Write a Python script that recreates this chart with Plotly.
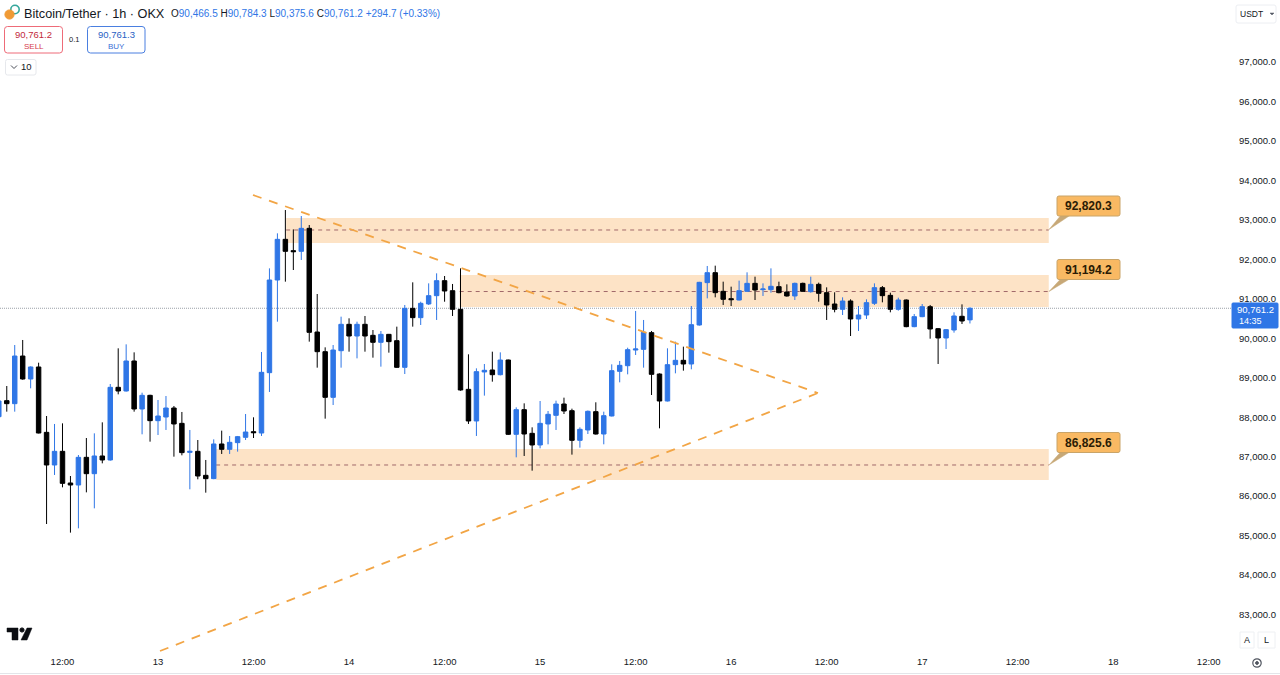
import plotly.graph_objects as go

# Hours relative to the 13th at 00:00
hours = list(range(-20, 103))
opens = [88014,88420,88344,89551,88969,89273,87617,86790,87136,86334,86283,86984,86570,87018,86917,88758,88665,89425,88209,88555,
 87913,88006,88234,87845,87110,87136,86528,86444,87322,87187,87356,87491,87634,87600,89129,91477,92507,92220,92203,92786,90159,89661,
 88504,89686,90354,90058,90354,90075,89898,90100,89940,89264,90759,90523,90870,91080,91460,91206,90734,88707,87905,89147,89197,89078,
 89450,87567,88192,87592,87297,87829,88048,88335,88166,87415,87677,88141,87575,88032,89163,89306,89703,89720,90143,89095,88411,89332,
 89442,89349,90337,91410,91663,91190,91004,90970,91190,91392,91232,91232,91308,91173,91072,91392,91181,91367,91156,90869,90734,90945,
 90489,90590,90886,91283,91088,90734,90970,90295,90548,90801,90244,90008,90210,90557,90466.5]
highs = [88430,88791,89830,89957,89290,89382,88031,87829,87845,86511,87043,87474,87592,87871,88842,89746,89847,89644,88622,88570,
 88437,88538,88285,88133,87677,87423,86917,87440,87660,87525,87525,88082,87998,89653,91772,92659,93250,92760,93098,92870,91122,89771,
 89830,90548,90506,90421,90565,90210,90185,90110,90295,90844,91418,90927,91392,91646,91578,91376,91772,89594,89239,89349,89661,89644,
 89460,88251,88352,87744,88411,88158,88420,88496,88217,87744,88170,88378,88141,89340,89425,89762,90692,90464,90185,89110,89746,89915,
 89788,90818,91430,91832,91840,91435,91308,91460,91671,91561,91392,91772,91435,91367,91410,91410,91561,91410,91291,91165,91038,90987,
 90818,90987,91392,91325,91156,91029,90985,90616,90869,90844,90260,90235,90658,90860,90784.3]
lows = [88000,88141,88141,88950,88732,87590,85295,86537,86224,85076,85185,86097,85692,86832,86900,88580,88650,88141,87567,87381,
 87550,87677,87001,87035,86174,86427,86089,86430,87069,87069,87128,87423,87474,87525,88640,90421,91435,91730,91984,89915,89256,87964,
 88310,89256,89661,89492,89661,89509,89281,89636,89250,89095,90295,90337,90844,90464,90927,90565,88672,87829,87525,88547,88901,89060,
 87550,86984,87018,86646,87212,87314,87677,88082,87052,87229,87575,87560,87314,88020,88884,89087,89577,89256,88563,87719,88400,89112,
 89180,89214,90320,91012,91038,90844,90818,90960,91180,90970,91072,91156,91140,91055,90970,91180,91156,90927,90464,90658,90590,90058,
 90185,90489,90844,90911,90658,90700,90280,90280,90535,89990,89349,89729,90143,90362,90375.6]
closes = [88411,88344,89551,88969,89273,87600,86790,87136,86325,86283,86984,86570,87018,86917,88758,88665,89425,88209,88555,87913,
 88031,88234,87829,87103,87136,86511,86444,87322,87187,87364,87508,87626,87609,89138,91477,92507,92203,92195,92786,90151,89661,88504,
 89703,90354,90058,90354,90058,89898,90100,89915,89264,90759,90523,90886,91080,91460,91198,90734,88690,87905,89155,89189,89078,89450,
 87567,88192,87575,87297,87845,88074,88335,88158,87415,87694,88150,87575,88040,89180,89315,89712,89729,90151,89087,88411,89332,89442,
 89349,90345,91418,91663,91156,90987,90979,91207,91392,91224,91249,91317,91156,91072,91392,91190,91367,91139,90844,90734,90945,90489,
 90590,90903,91283,91080,90734,90970,90295,90548,90801,90236,90008,90219,90565,90438,90761.2]

price_ticks = [83000,84000,85000,86000,87000,88000,89000,90000,91000,92000,93000,94000,95000,96000,97000]
price_labels = [f"{p:,.1f}" for p in price_ticks]
time_ticks = [-12,0,12,24,36,48,60,72,84,96,108,120,132]
time_labels = ["12:00","13","12:00","14","12:00","15","12:00","16","12:00","17","12:00","18","12:00"]

zone_starts = [16.1, 37.9, 7.3]
zone_end = 111.9
zone_tops = [93047, 91603, 87195]
zone_bottoms = [92414, 90793, 86409]
zone_lines = [92744, 91185, 86790]
zone_labels = ["92,820.3", "91,194.2", "86,825.6"]

upper_hours = [11.93, 82.91]
upper_prices = [93630, 88614]
lower_hours = [0.25, 82.91]
lower_prices = [82077, 88614]
last_price = 90761.2

BLUE = "#2f76e6"
W, H = 1232, 652
FONT = "Liberation Sans"

def px(x): return x / W
def py(y): return 1 - y / H

shapes, ann = [], []

def rect(x0, y0, x1, y1, line="#dfe1e6", fill="rgba(0,0,0,0)", width=1):
    shapes.append(dict(type="rect", xref="paper", yref="paper", x0=px(x0), x1=px(x1), y0=py(y0), y1=py(y1),
                       line=dict(color=line, width=width), fillcolor=fill))

def rrect(x0, y0, x1, y1, r, line, fill="#ffffff", width=1):
    X0, X1, Y0, Y1 = px(x0), px(x1), py(y0), py(y1)
    rx, ry = r / W, r / H
    path = (f"M {X0+rx},{Y0} L {X1-rx},{Y0} Q {X1},{Y0} {X1},{Y0-ry} L {X1},{Y1+ry} Q {X1},{Y1} {X1-rx},{Y1} "
            f"L {X0+rx},{Y1} Q {X0},{Y1} {X0},{Y1+ry} L {X0},{Y0-ry} Q {X0},{Y0} {X0+rx},{Y0} Z")
    shapes.append(dict(type="path", xref="paper", yref="paper", path=path, line=dict(color=line, width=width), fillcolor=fill))

def circle(cx, cy, r, fill, line=None, width=1):
    shapes.append(dict(type="circle", xref="paper", yref="paper", x0=px(cx-r), x1=px(cx+r), y0=py(cy+r), y1=py(cy-r),
                       fillcolor=fill, line=dict(color=line or fill, width=width)))

def poly(points, fill, line=None):
    d = "M " + " L ".join(f"{px(a)},{py(b)}" for a, b in points) + " Z"
    shapes.append(dict(type="path", xref="paper", yref="paper", path=d, fillcolor=fill, line=dict(color=line or fill, width=0.5)))

def text(x, y, s, size=9.5, color="#131722", anchor="left", bold=False):
    ann.append(dict(xref="paper", yref="paper", x=px(x), y=py(y), text=f"<b>{s}</b>" if bold else s, showarrow=False,
                    xanchor=anchor, yanchor="middle", font=dict(family=FONT, size=size, color=color), borderpad=0))

# Zones
for s, t, b, m in zip(zone_starts, zone_tops, zone_bottoms, zone_lines):
    shapes.append(dict(type="rect", xref="x", yref="y", x0=s, x1=zone_end, y0=b, y1=t, fillcolor="#fde3c6",
                       line=dict(width=0), layer="below"))
    shapes.append(dict(type="line", xref="x", yref="y", x0=s, x1=zone_end, y0=m, y1=m,
                       line=dict(color="#a0686a", width=1, dash="4px,4px"), layer="below"))

# Last price line
shapes.append(dict(type="line", xref="paper", yref="y", x0=0, x1=1, y0=last_price, y1=last_price,
                   line=dict(color="#9aa0a8", width=1, dash="1px,1px"), layer="below"))

# Callouts
for (ty, by), label in zip([(206, 229.5), (269.5, 291.5), (442.5, 465)], zone_labels):
    poly([(1049, by), (1062, ty+8), (1072, ty+8)], "#c7a877")
    rrect(1057, ty-10, 1120, ty+10, 2, "#c9a468", "#f9b963")
    text(1088.5, ty, label, size=12, color="#2b1c05", anchor="center", bold=True)

# Header
circle(15, 9.5, 4.2, "#ffffff", "#35a79c", 1.6)
circle(9.5, 14.5, 4.6, "#f09a35")
text(23, 13.5, "Bitcoin/Tether · 1h · OKX", size=12.7)
v = "color:#2f76e6"
text(170, 13.5, f'O<span style="{v}">90,466.5</span> H<span style="{v}">90,784.3</span> '
     f'L<span style="{v}">90,375.6</span> C<span style="{v}">90,761.2</span> '
     f'<span style="{v}">+294.7 (+0.33%)</span>', size=10)
rrect(4.5, 26.5, 62.5, 53, 3, "#ee6b78")
rrect(87.5, 26.5, 145, 53, 3, "#4a7fe0")
text(33.5, 34, "90,761.2", size=9.5, color="#c22a3b", anchor="center")
text(33.5, 46, "SELL", size=8, color="#d63a4c", anchor="center")
text(116, 34, "90,761.3", size=9.5, color="#2a5fc4", anchor="center")
text(116, 46, "BUY", size=8, color="#3a6fd6", anchor="center")
text(74, 40, "0.1", size=7.5, anchor="center")
rrect(5.5, 59.5, 36, 75, 2, "#e6e8ec")
text(26.5, 67, "10", size=9.5, anchor="center")
shapes.append(dict(type="path", xref="paper", yref="paper", line=dict(color="#4a4e58", width=1),
                   path=f"M {px(11)},{py(65.5)} L {px(14)},{py(68.5)} L {px(17)},{py(65.5)}"))
rrect(1236, 5, 1276, 23, 2, "#eceef2")
text(1238.5, 14, "USDT", size=8.5)
poly([(1270, 13), (1274, 13), (1272, 15)], "#555a66")

# Price tag
rrect(1232, 303, 1278, 328, 1, BLUE, BLUE)
text(1255, 310, "90,761.2", size=9.5, color="#ffffff", anchor="center")
text(1250, 321, "14:35", size=9, color="#ffffff", anchor="center")

# Logo
poly([(7, 628), (18, 628), (18, 640), (12, 640), (12, 632), (7, 632)], "#0b0d12")
circle(22, 630, 2.1, "#0b0d12")
poly([(27, 628), (32, 628), (27, 640), (21, 640)], "#0b0d12")

# Axis corner buttons and rule
rect(1240, 632, 1254, 648, "#eef0f3")
rect(1258, 632, 1275, 648, "#eef0f3")
text(1247, 640, "A", size=9, anchor="center")
text(1266.5, 640, "L", size=9, anchor="center")
circle(1257, 663, 4.2, "#ffffff", "#50555f", 1.2)
circle(1257, 663, 1.4, "#50555f")
shapes.append(dict(type="line", xref="paper", yref="paper", x0=0, x1=1280/W, y0=py(673.5), y1=py(673.5),
                   line=dict(color="#e3e5e9", width=1)))

fig = go.Figure()
fig.add_trace(go.Candlestick(x=hours, open=opens, high=highs, low=lows, close=closes,
    increasing=dict(line=dict(color=BLUE, width=1), fillcolor=BLUE),
    decreasing=dict(line=dict(color="#000000", width=1), fillcolor="#000000"),
    whiskerwidth=0, hoverinfo="skip", showlegend=False))
dash = "9px,8px"
fig.add_trace(go.Scatter(x=upper_hours, y=upper_prices, mode="lines", hoverinfo="skip", showlegend=False,
                         line=dict(color="#f2a545", width=1.8, dash=dash)))
fig.add_trace(go.Scatter(x=lower_hours, y=lower_prices, mode="lines", hoverinfo="skip", showlegend=False,
                         line=dict(color="#f2a545", width=1.8, dash=dash)))

fig.update_layout(
    width=1280, height=675, margin=dict(l=0, r=48, t=0, b=23), paper_bgcolor="#ffffff", plot_bgcolor="#ffffff",
    boxgap=0.2, showlegend=False, shapes=shapes, annotations=ann, hovermode=False,
    xaxis=dict(range=[-19.85, 134.92], tickmode="array", tickvals=time_ticks, ticktext=time_labels, showgrid=False,
               zeroline=False, showline=False, ticks="", rangeslider=dict(visible=False),
               tickfont=dict(family=FONT, size=9.5, color="#131722"), ticklabelstandoff=2),
    yaxis=dict(range=[82052, 98571], side="right", tickmode="array", tickvals=price_ticks, ticktext=price_labels,
               showgrid=False, zeroline=False, showline=False, ticks="",
               tickfont=dict(family=FONT, size=9.5, color="#131722"), ticklabelstandoff=6),
)
fig.write_html("out.html", config=dict(displayModeBar=False), post_script="document.body.style.margin='0';")
